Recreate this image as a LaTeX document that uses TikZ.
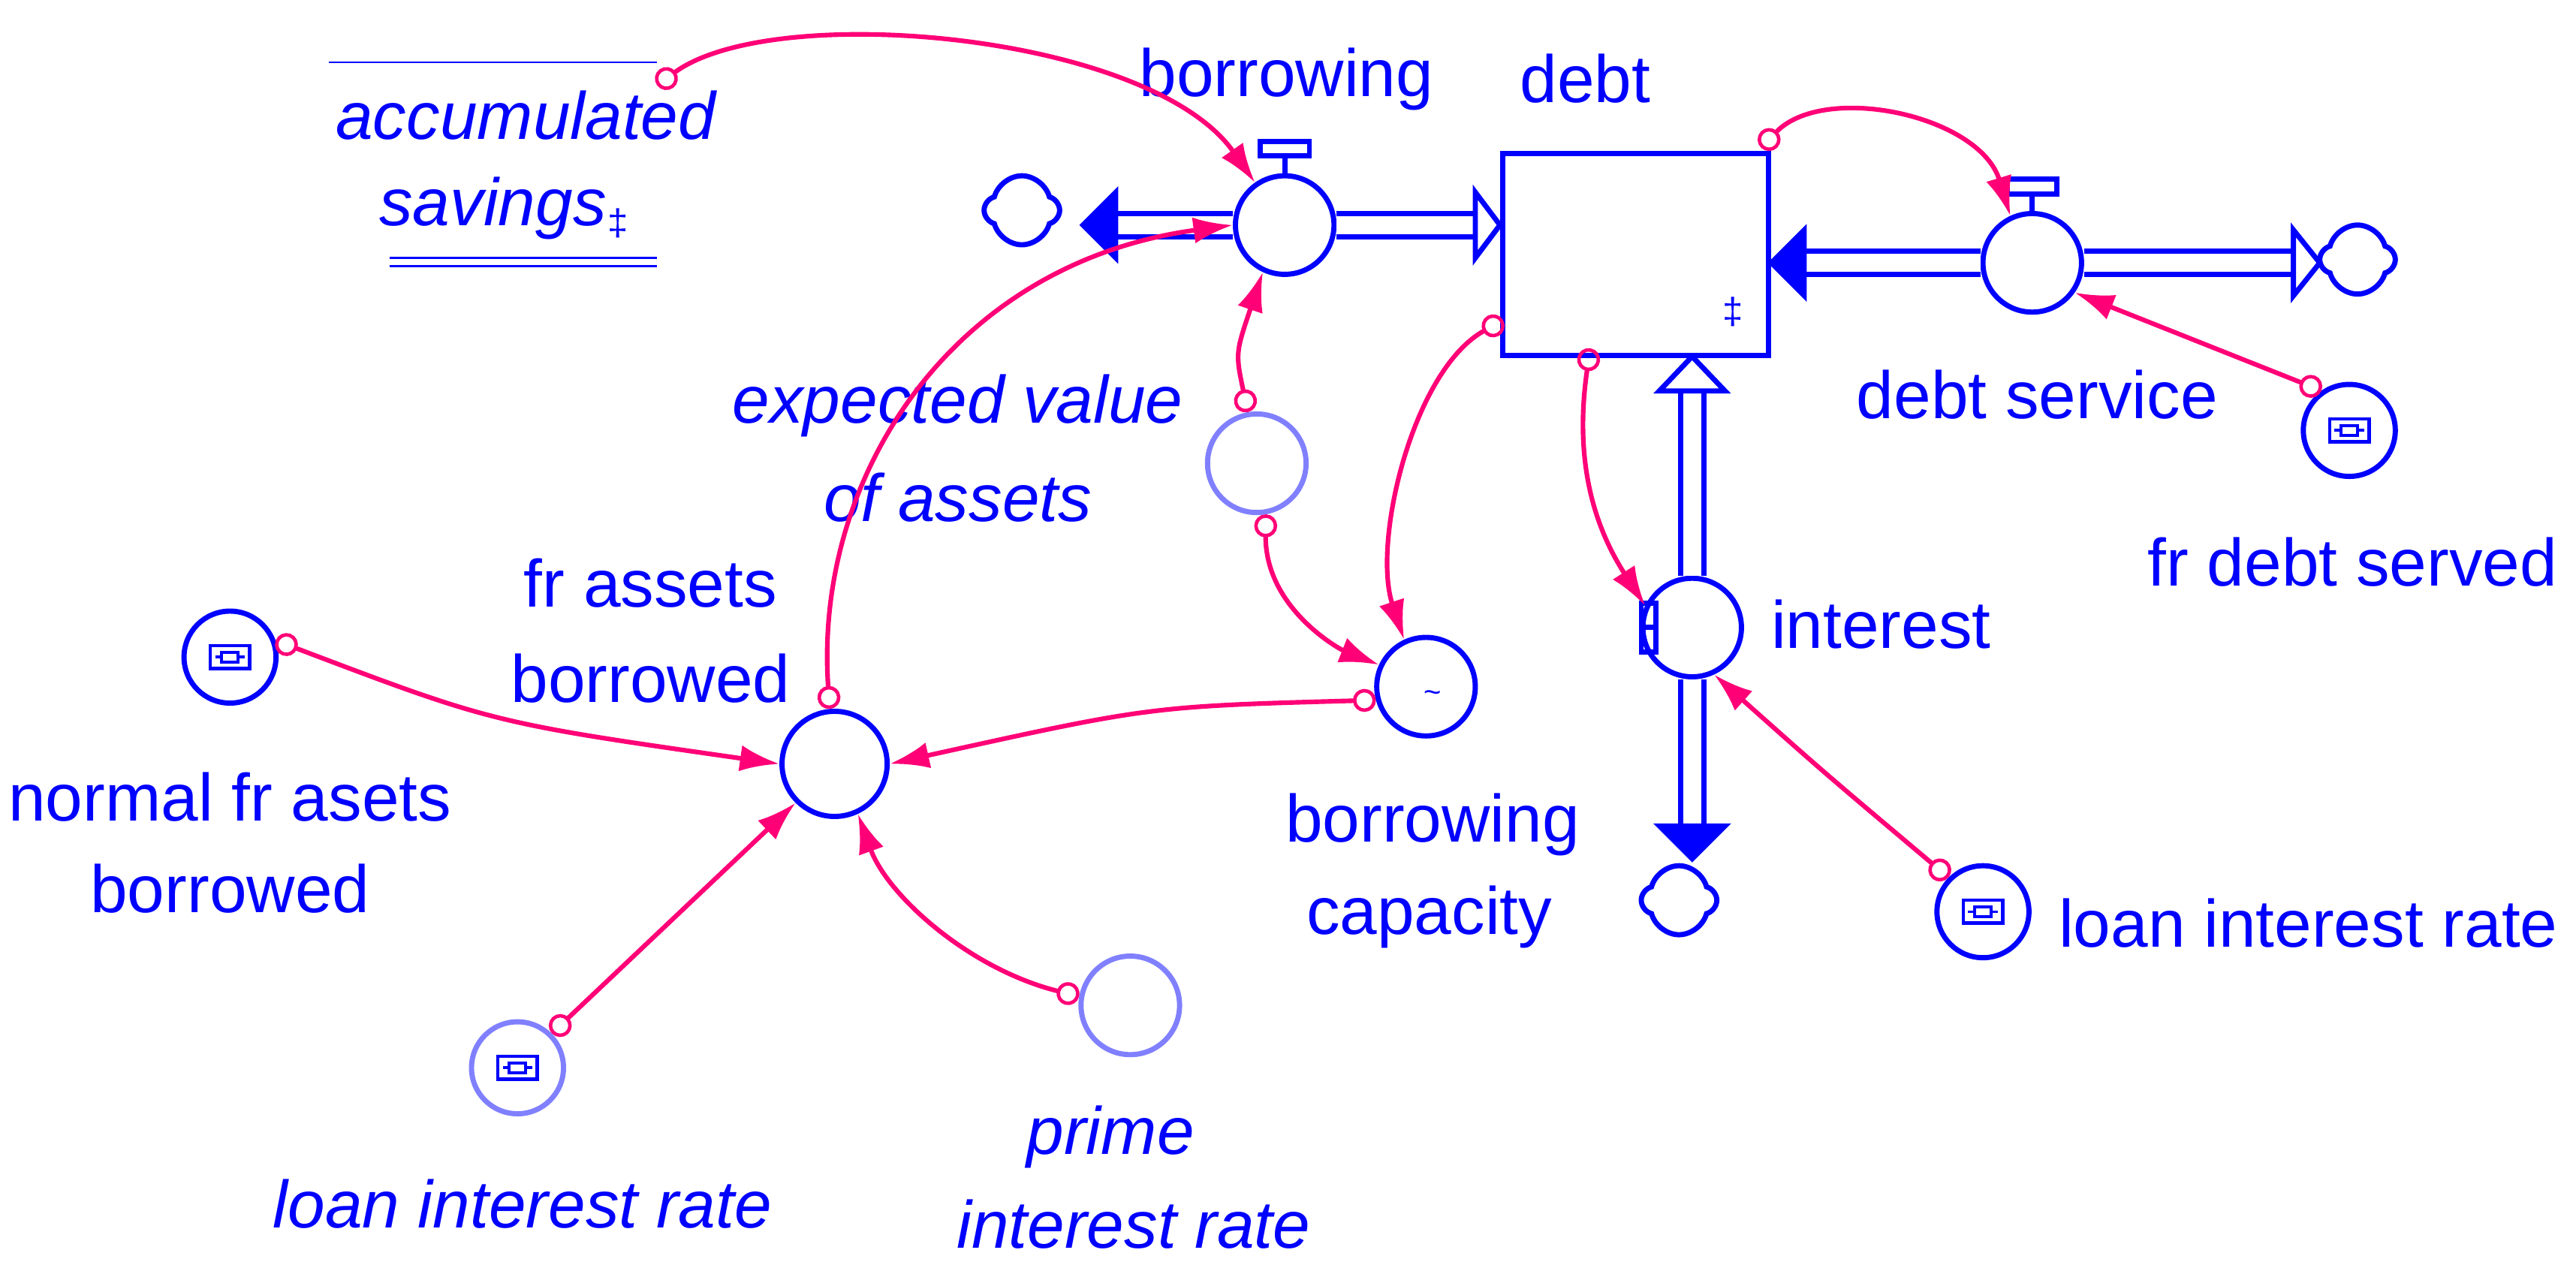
\documentclass[tikz,border=0pt]{standalone}
\usepackage{fontspec}
\setmainfont{Liberation Sans}
\usetikzlibrary{arrows.meta,shapes.symbols}
\definecolor{vblue}{RGB}{0,0,255}
\definecolor{lblue}{RGB}{128,128,255}
\definecolor{lpink}{RGB}{255,0,119}
\newcommand\myconst[1]{%
  \draw[vblue,line width=3pt,fill=white] ([shift={(-12,-7)}]#1.center) rectangle ([shift={(12,7)}]#1.center);
  \draw[vblue,line width=2.5pt] ([shift={(-5,-3)}]#1.center) rectangle ([shift={(5,3)}]#1.center);
  \draw[vblue,line width=2.5pt] ([shift={(-9,0)}]#1.center) -- ([shift={(-5,0)}]#1.center) ([shift={(5,0)}]#1.center) -- ([shift={(9,0)}]#1.center);}
\begin{document}
\begin{tikzpicture}[x=0.05cm,y=-0.05cm,
 every node/.style={font=\fontsize{58}{68}\selectfont, text=vblue},
 lbl/.style={align=center, inner sep=0},
 var/.style={circle, draw=vblue, line width=4.5pt, minimum size=3cm, inner sep=0},
 ghost/.style={circle, draw=lblue, line width=4.5pt, minimum size=3cm, inner sep=0},
 cst/.style={circle, draw=vblue, line width=4.5pt, minimum size=2.8cm, inner sep=0},
 gcst/.style={circle, draw=lblue, line width=4.5pt, minimum size=2.8cm, inner sep=0},
 cl/.style={cloud, cloud puffs=4, draw=vblue, line width=4.5pt, minimum width=2.3cm, minimum height=2.1cm, aspect=1},
 pipe/.style={draw=vblue, line width=4.5pt, double=white, double distance=0.55cm},
 filltip/.style={fill=vblue, draw=vblue, line width=2pt},
 opentip/.style={fill=white, draw=vblue, line width=4.5pt},
 link/.style={draw=lpink, line width=4pt, {Circle[open,length=0.7cm,width=0.7cm,line width=3pt]}-{Latex[length=1.2cm,width=0.8cm]}},
]
\useasboundingbox (0,0) rectangle (1568,770);

% stock
\node[draw=vblue, line width=4.5pt, minimum width=8.1cm, minimum height=6.15cm, anchor=north west] (debt) at (913,92) {};
\node[font=\fontsize{32}{32}\selectfont] at (1055,190) {‡};
\node[lbl] (debtL) at (965,48) {debt};

% valves
\node[var] (bv) at (782,137) {};
\node[var] (ds) at (1237,160) {};
\node[var] (iv) at (1030,382) {};
\draw[vblue,line width=4.5pt] (bv.north) -- (782,96);
\draw[vblue,line width=4.5pt] (767,86) rectangle (797,95);
\draw[vblue,line width=4.5pt] (ds.north) -- (1237,119);
\draw[vblue,line width=4.5pt] (1222,109) rectangle (1252,118);
\draw[vblue,line width=4.5pt] (iv.west) -- (1008,382);
\draw[vblue,line width=4.5pt] (999,367) rectangle (1008,397);

% clouds
\node[cl] (c1) at (622,128) {};
\node[cl] (c2) at (1435,158) {};
\node[cl] (c3) at (1022,548) {};

% pipes
\coordinate (p1) at (680,137);
\draw[pipe] (bv.west) -- (p1);
\draw[filltip] (658,137) -- (680,115) -- (680,159) -- cycle;
\coordinate (p2) at (898,137);
\draw[pipe] (bv.east) -- (p2);
\draw[opentip] (913,137) -- (898,117) -- (898,157) -- cycle;
\coordinate (p3) at (1095,160);
\draw[pipe] (ds.west) -- (p3);
\draw[filltip] (1077,160) -- (1099,138) -- (1099,182) -- cycle;
\coordinate (p4) at (1396,160);
\draw[pipe] (ds.east) -- (p4);
\draw[opentip] (1412,160) -- (1396,140) -- (1396,180) -- cycle;
\coordinate (p5) at (1030,238);
\draw[pipe] (iv.north) -- (p5);
\draw[opentip] (1030,217) -- (1010,238) -- (1050,238) -- cycle;
\coordinate (p6) at (1030,502);
\draw[pipe] (iv.south) -- (p6);
\draw[filltip] (1030,524) -- (1008,502) -- (1052,502) -- cycle;

% auxiliaries
\node[ghost] (ev) at (765,282) {};
\node[var] (bc) at (868,418) {};
\node[font=\fontsize{26}{26}\selectfont] at (872,424) {\textasciitilde};
\node[var, minimum size=3.2cm] (fab) at (508,465) {};
\node[ghost] (pir) at (688,612) {};

% constants
\node[cst] (nfa) at (140,400) {}; \myconst{nfa}
\node[gcst] (lir1) at (315,650) {}; \myconst{lir1}
\node[cst] (fds) at (1430,262) {}; \myconst{fds}
\node[cst] (lir2) at (1207,555) {}; \myconst{lir2}

% accumulated savings ghost
\draw[vblue, line width=1.5pt] (200,38) -- (400,38);
\draw[vblue, line width=1.5pt] (237,157) -- (400,157) (237,162) -- (400,162);
\node[lbl, font=\fontsize{58}{68}\selectfont\itshape] (asL1) at (320,70) {accumulated};
\node[lbl, font=\fontsize{58}{68}\selectfont\itshape] (asL2) at (300,127) {savings};
\node[font=\fontsize{32}{32}\selectfont] at (376,136) {‡};
\coordinate (asT) at (400,52);

% labels
\node[lbl] at (783,48) {borrowing};
\node[lbl] at (1240,240) {debt service};
\node[lbl] at (1432,342) {fr debt served};
\node[lbl] at (1145,380) {interest};
\node[lbl] at (1405,562) {loan interest rate};
\node[lbl, font=\fontsize{58}{68}\selectfont\itshape] at (583,247) {expected value};
\node[lbl, font=\fontsize{58}{68}\selectfont\itshape] at (583,303) {of assets};
\node[lbl] at (872,502) {borrowing};
\node[lbl] at (870,558) {capacity};
\node[lbl] at (396,355) {fr assets};
\node[lbl] at (396,413) {borrowed};
\node[lbl] at (140,485) {normal fr asets};
\node[lbl] at (140,541) {borrowed};
\node[lbl, font=\fontsize{58}{68}\selectfont\itshape] at (318,733) {loan interest rate};
\node[lbl, font=\fontsize{58}{68}\selectfont\itshape] at (676,692) {prime};
\node[lbl, font=\fontsize{58}{68}\selectfont\itshape] at (690,745) {interest rate};

% links
\coordinate (d1) at (915,195);
\coordinate (d2) at (968,212);
\coordinate (d3) at (1072,90);
\draw[link] (asT) .. controls (470,0) and (700,20) .. (bv.125);
\draw[link] (fab.95) .. controls (495,290) and (580,160) .. (bv.180);
\draw[link] (ev.100) .. controls (752,215) .. (bv.245);
\draw[link] (ev.280) .. controls (770,370) and (815,395) .. (bc.155);
\draw[link] (d1) .. controls (860,225) and (835,330) .. (bc.115);
\draw[link] (d2) .. controls (958,280) and (970,320) .. (iv.155);
\draw[link] (d3) .. controls (1110,50) and (1205,70) .. (ds.115);
\draw[link] (fds.125) -- (ds.-35);
\draw[link] (lir2.135) .. controls (1110,470) .. (iv.-65);
\draw[link] (bc.195) .. controls (700,430) .. (fab.0);
\draw[link] (nfa.20) .. controls (300,440) .. (fab.180);
\draw[link] (lir1.45) -- (fab.225);
\draw[link] (pir.170) .. controls (590,590) and (540,545) .. (fab.-65);
\end{tikzpicture}
\end{document}
